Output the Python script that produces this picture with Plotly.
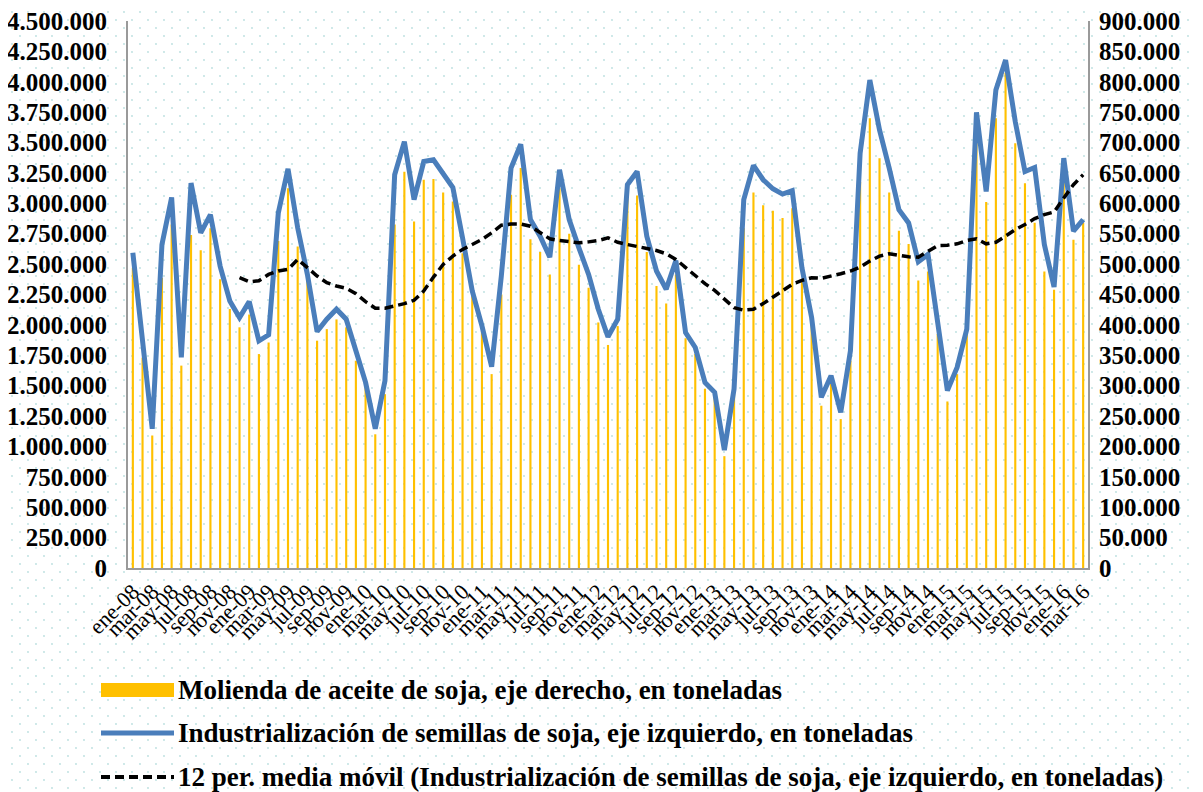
import base64
import plotly.graph_objects as go

# Spanish month abbreviations and years -> category labels ene-08 .. mar-16
months = ["ene", "feb", "mar", "abr", "may", "jun", "jul", "ago", "sep", "oct", "nov", "dic"]
years = ["08", "09", "10", "11", "12", "13", "14", "15", "16"]
categories = [f"{m}-{y}" for y in years for m in months][:99]
tick_labels = categories[::2]

# Industrializacion de semillas de soja (left axis, toneladas)
semillas = [
    2593000, 1869000, 1145000, 2661000, 3049000, 1732000, 3167000, 2757000, 2907000, 2484000,
    2197000, 2060000, 2191000, 1869000, 1918000, 2921000, 3284000, 2798000, 2415000, 1945000,
    2047000, 2129000, 2047000, 1787000, 1527000, 1145000, 1541000, 3235000, 3508000, 3030000,
    3344000, 3358000, 3249000, 3130000, 2716000, 2279000, 1992000, 1656000, 2402000, 3290000,
    3486000, 2866000, 2730000, 2557000, 3276000, 2866000, 2634000, 2415000, 2129000, 1902000,
    2047000, 3153000, 3262000, 2730000, 2443000, 2293000, 2530000, 1937000, 1814000, 1527000,
    1445000, 970000, 1473000, 3030000, 3312000, 3194000, 3120000, 3076000, 3104000, 2470000,
    2060000, 1404000, 1582000, 1281000, 1787000, 3412000, 4014000, 3604000, 3290000, 2948000,
    2839000, 2519000, 2580000, 2019000, 1459000, 1650000, 1965000, 3749000, 3098000, 3932000,
    4178000, 3672000, 3262000, 3295000, 2661000, 2312000, 3372000, 2771000, 2866000,
]

# 12 per. media movil (starts at dic-08)
media_movil = [None] * 11 + [
    2388000, 2355000, 2363000, 2415000, 2443000, 2457000, 2539000, 2470000, 2402000,
    2347000, 2320000, 2301000, 2257000, 2191000, 2137000, 2137000, 2156000, 2175000, 2202000,
    2279000, 2393000, 2498000, 2566000, 2621000, 2661000, 2703000, 2757000, 2820000, 2830000,
    2830000, 2812000, 2757000, 2708000, 2694000, 2683000, 2675000, 2683000, 2694000, 2716000,
    2680000, 2661000, 2642000, 2629000, 2612000, 2585000, 2539000, 2470000, 2402000, 2339000,
    2284000, 2211000, 2142000, 2121000, 2129000, 2175000, 2230000, 2284000, 2334000, 2366000,
    2388000, 2383000, 2399000, 2421000, 2443000, 2475000, 2525000, 2566000, 2585000, 2574000,
    2560000, 2557000, 2601000, 2653000, 2656000, 2667000, 2694000, 2708000, 2667000, 2680000,
    2730000, 2784000, 2826000, 2875000, 2907000, 2929000, 3044000, 3153000, 3235000,
]

# Molienda de aceite de soja (right axis, toneladas)
aceite = [
    494000, 346000, 218000, 477000, 565000, 333000, 548000, 523000, 559000, 475000,
    426000, 396000, 417000, 352000, 371000, 538000, 625000, 529000, 475000, 374000,
    393000, 409000, 396000, 341000, 297000, 220000, 286000, 565000, 652000, 570000,
    639000, 640000, 618000, 603000, 518000, 450000, 390000, 319000, 450000, 614000,
    658000, 541000, 520000, 483000, 625000, 550000, 499000, 461000, 404000, 367000,
    398000, 614000, 613000, 520000, 464000, 435000, 483000, 378000, 352000, 295000,
    281000, 184000, 286000, 559000, 618000, 597000, 588000, 576000, 592000, 472000,
    401000, 267000, 303000, 245000, 341000, 635000, 740000, 674000, 618000, 555000,
    533000, 473000, 488000, 385000, 274000, 319000, 385000, 700000, 602000, 740000,
    815000, 699000, 633000, 568000, 488000, 458000, 634000, 540000, 568000,
]

legend_names = [
    "Molienda de aceite de soja, eje derecho, en toneladas",
    "Industrialización de semillas de soja, eje izquierdo, en toneladas",
    "12 per. media móvil (Industrialización de semillas de soja, eje izquierdo, en toneladas)",
]

# the page body adds an 8px margin, so the figure is sized/placed to compensate
OFF = 8
W, H = 1203 - OFF, 792 - OFF
L, T = 128 - OFF, 21 - OFF
R = W - (1088 - OFF)
B = H - (568 - OFF)
PW, PH = W - L - R, H - T - B
FONT = "Liberation Serif"
BLUE = "#4A7EBB"
GOLD = "#FFC000"


def px_x(px):
    # screen pixel (reference picture) -> paper x
    return (px - OFF - L) / PW


def px_y(py):
    return (H - B - (py - OFF)) / PH


fig = go.Figure()
fig.add_trace(go.Bar(x=categories, y=aceite, name=legend_names[0], marker_color=GOLD,
                     marker_line_width=0, width=0.22, yaxis="y", showlegend=False))
fig.add_trace(go.Scatter(x=categories, y=semillas, name=legend_names[1], mode="lines",
                         line=dict(color=BLUE, width=5), yaxis="y2", showlegend=False))
fig.add_trace(go.Scatter(x=categories, y=media_movil, name=legend_names[2], mode="lines",
                         line=dict(color="black", width=3.5, dash="9px,5px"), yaxis="y2",
                         showlegend=False))

# dotted background pattern (as in the original sheet)
svg = (f'<svg xmlns="http://www.w3.org/2000/svg" width="{W}" height="{H}">'
       '<defs><pattern id="p" width="16" height="16" patternUnits="userSpaceOnUse">'
       '<circle cx="4" cy="4" r="0.9" fill="#b9dede"/>'
       '<circle cx="12" cy="12" r="0.9" fill="#b9dede"/></pattern></defs>'
       f'<rect width="{W}" height="{H}" fill="url(#p)"/></svg>')
bg = "data:image/svg+xml;base64," + base64.b64encode(svg.encode()).decode()
fig.add_layout_image(source=bg, xref="paper", yref="paper", x=-L / PW, y=1 + T / PH,
                     sizex=W / PW, sizey=H / PH, xanchor="left", yanchor="top",
                     sizing="stretch", layer="below")

# hand-made legend with the wide Excel-style keys
rows = [690, 733, 777]
fig.add_shape(type="rect", xref="paper", yref="paper", x0=px_x(101), x1=px_x(174),
              y0=px_y(697), y1=px_y(683), fillcolor=GOLD, line_width=0)
fig.add_shape(type="line", xref="paper", yref="paper", x0=px_x(101), x1=px_x(174),
              y0=px_y(rows[1]), y1=px_y(rows[1]), line=dict(color=BLUE, width=5))
fig.add_shape(type="line", xref="paper", yref="paper", x0=px_x(101), x1=px_x(174),
              y0=px_y(rows[2]), y1=px_y(rows[2]), line=dict(color="black", width=4, dash="9px,5px"))
for name, ry in zip(legend_names, rows):
    fig.add_annotation(text=name, xref="paper", yref="paper", x=px_x(176), y=px_y(ry),
                       xanchor="left", yanchor="middle", showarrow=False,
                       font=dict(family=FONT, size=27, color="black", weight="bold"))

tick_font = dict(family=FONT, size=25, color="black", weight="bold")
fig.update_layout(
    width=W, height=H,
    margin=dict(l=L, r=R, t=T, b=B, autoexpand=False),
    paper_bgcolor="white", plot_bgcolor="rgba(0,0,0,0)",
    separators=",.",
    showlegend=False,
    xaxis=dict(type="category", range=[-0.5, 98.5], tickmode="array", tickvals=tick_labels,
               ticktext=tick_labels, tickangle=-45, showgrid=False, ticks="",
               showline=True, linecolor="#9a9a9a", linewidth=2,
               tickfont=dict(family=FONT, size=22, color="black")),
    yaxis=dict(side="right", range=[0, 900000], dtick=50000, tickformat=",d",
               showgrid=False, zeroline=False, showline=True, linecolor="#9a9a9a", linewidth=2,
               ticks="", ticklabelstandoff=4, ticklabeloverflow="allow", tickfont=tick_font),
    yaxis2=dict(side="left", overlaying="y", range=[0, 4500000], dtick=250000, tickformat=",d",
                showgrid=False, zeroline=False, showline=True, linecolor="#9a9a9a", linewidth=2,
                ticks="", ticklabelstandoff=14, ticklabeloverflow="allow", tickfont=tick_font),
)

fig.write_html("out.html")
